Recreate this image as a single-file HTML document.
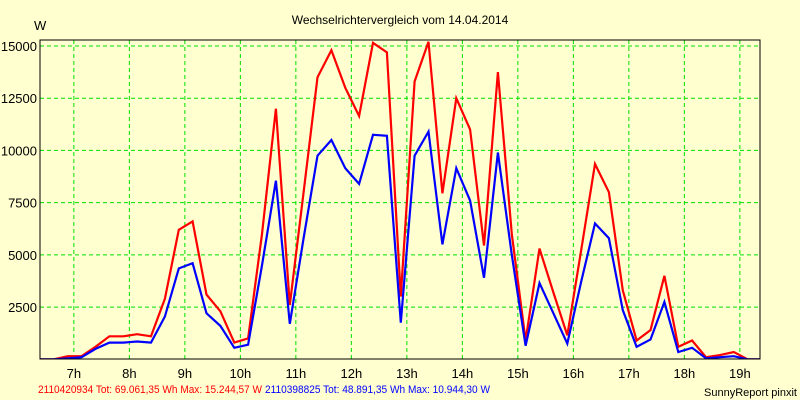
<!DOCTYPE html>
<html><head><meta charset="utf-8"><style>
body{margin:0;background:#ffffd0;}
svg{display:block;font-family:"Liberation Sans",Arial,sans-serif;}
</style></head><body>
<svg id="chart" width="800" height="400">
<rect x="0" y="0" width="800" height="400" fill="#ffffd0"/>
<text x="400" y="24" text-anchor="middle" font-size="12" fill="#000">Wechselrichtervergleich vom 14.04.2014</text>
<text x="34" y="30" font-size="13" fill="#000">W</text>
<g id="grid"></g>
<g id="ylabels"></g>
<g id="xlabels"></g>
<g id="series"></g>
<rect x="40" y="40" width="720" height="319" fill="none" stroke="#000" stroke-width="1"/>
<text x="38" y="393" font-size="11" fill="#ff0000" textLength="224" lengthAdjust="spacingAndGlyphs">2110420934 Tot: 69.061,35 Wh Max: 15.244,57 W</text>
<text x="265" y="393" font-size="11" fill="#0000ff" textLength="225" lengthAdjust="spacingAndGlyphs">2110398825 Tot: 48.891,35 Wh Max: 10.944,30 W</text>
<text x="797" y="396" text-anchor="end" font-size="11" fill="#000">SunnyReport pinxit</text>
</svg>
<script>
const yTicks = [2500, 5000, 7500, 10000, 12500, 15000];
const yTickLabels = ["2500", "5000", "7500", "10000", "12500", "15000"];
const hourTicks = [7, 8, 9, 10, 11, 12, 13, 14, 15, 16, 17, 18, 19];
const hourLabels = ["7h","8h","9h","10h","11h","12h","13h","14h","15h","16h","17h","18h","19h"];
const redValues = [0,0,150,150,600,1100,1100,1200,1100,2900,6200,6600,3100,2300,800,1000,6000,12000,2600,8000,13500,14800,13000,11650,15150,14700,3000,13300,15200,7950,12500,11000,5450,13750,6000,900,5300,3200,1150,5200,9350,8000,3300,900,1400,4000,600,900,100,200,350,0,0];
const blueValues = [0,0,50,100,500,800,800,850,800,2050,4350,4600,2200,1600,550,700,4500,8550,1700,5800,9750,10500,9150,8400,10750,10700,1750,9750,10900,5500,9150,7600,3900,9900,5000,650,3650,2200,750,3700,6500,5800,2350,600,950,2750,350,550,50,100,150,0,0];

const NS = "http://www.w3.org/2000/svg";
const plotLeft = 40, plotRight = 760, plotTop = 40, plotBottom = 359;
const startHour = 6.39, hourPx = 55.5;
const stepHours = 0.25;
function xHour(h){ return plotLeft + (h - startHour) * hourPx; }
function xIdx(i){ return xHour(startHour + i * stepHours); }
function yPos(v){ return 359.3 - v * (313.3 / 15000); }
function mk(tag, attrs, parent){ const e=document.createElementNS(NS,tag); for(const k in attrs) e.setAttribute(k, attrs[k]); parent.appendChild(e); return e; }

const grid = document.getElementById('grid');
const yl = document.getElementById('ylabels');
const xl = document.getElementById('xlabels');
yTicks.forEach((v,i)=>{
  const l = mk('line',{x1:plotLeft,x2:plotRight,y1:yPos(v),y2:yPos(v),stroke:'#00e000','stroke-width':1,'stroke-dasharray':'4,3'},grid);
  
  
  const t = mk('text',{x:37,y:yPos(v)+5,'text-anchor':'end','font-size':13,fill:'#000'},yl);
  t.textContent = yTickLabels[i];
  
  
});
hourTicks.forEach((h,i)=>{
  const l = mk('line',{x1:xHour(h),x2:xHour(h),y1:plotTop,y2:plotBottom,stroke:'#00e000','stroke-width':1,'stroke-dasharray':'4,3'},grid);
  
  
  const t = mk('text',{x:xHour(h),y:378,'text-anchor':'middle','font-size':13,fill:'#000'},xl);
  t.textContent = hourLabels[i];
  
  
});
const series = document.getElementById('series');
const clip = mk('clipPath',{id:'pc'},series);
mk('rect',{x:plotLeft,y:plotTop-5,width:plotRight-plotLeft,height:plotBottom-plotTop+5},clip);
function drawLine(vals,color,name){
  const pts = vals.map((v,i)=>xIdx(i).toFixed(1)+','+yPos(v).toFixed(1)).join(' ');
  const p = mk('polyline',{points:pts,fill:'none',stroke:color,'stroke-width':2.2,'stroke-linejoin':'miter','clip-path':'url(#pc)'},series);
  
  
}
drawLine(redValues,'#ff0000','series-2110420934');
drawLine(blueValues,'#0000ff','series-2110398825');
</script>
</body></html>
